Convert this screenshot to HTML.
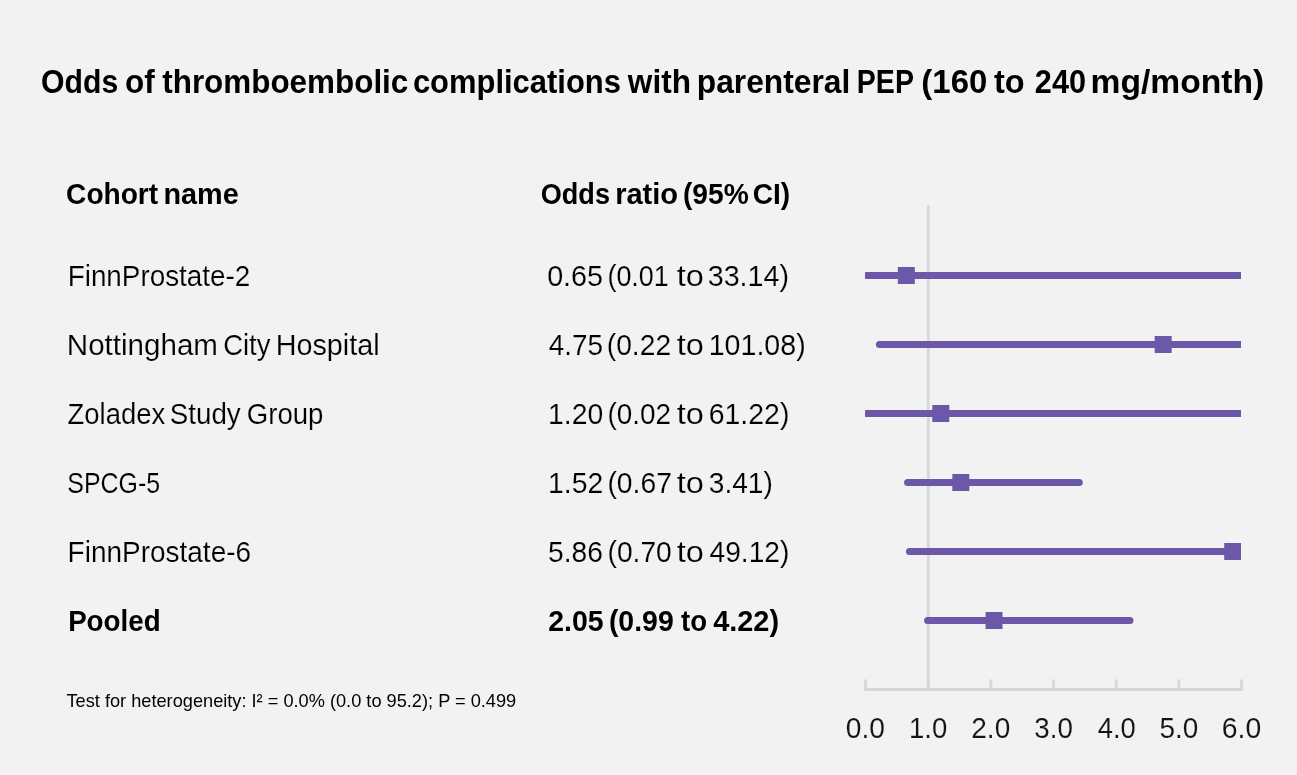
<!DOCTYPE html>
<html><head><meta charset="utf-8"><title>Forest plot</title>
<style>
html,body{margin:0;padding:0;background:#f2f2f2;}
body{width:1297px;height:775px;overflow:hidden;}
svg{display:block;font-family:"Liberation Sans",sans-serif;will-change:transform;}
</style></head>
<body>
<svg width="1297" height="775" viewBox="0 0 1297 775">
<rect width="1297" height="775" fill="#f2f2f2"/>
<line x1="928.25" y1="205" x2="928.25" y2="689.5" stroke="#d3d7de" stroke-width="2.8"/>
<line x1="865.6" y1="679.5" x2="865.6" y2="689.5" stroke="#d3d7de" stroke-width="2.8"/><line x1="928.25" y1="679.5" x2="928.25" y2="689.5" stroke="#d3d7de" stroke-width="2.8"/><line x1="990.9" y1="679.5" x2="990.9" y2="689.5" stroke="#d3d7de" stroke-width="2.8"/><line x1="1053.55" y1="679.5" x2="1053.55" y2="689.5" stroke="#d3d7de" stroke-width="2.8"/><line x1="1116.2" y1="679.5" x2="1116.2" y2="689.5" stroke="#d3d7de" stroke-width="2.8"/><line x1="1178.85" y1="679.5" x2="1178.85" y2="689.5" stroke="#d3d7de" stroke-width="2.8"/><line x1="1241.5" y1="679.5" x2="1241.5" y2="689.5" stroke="#d3d7de" stroke-width="2.8"/>
<line x1="864.2" y1="689.5" x2="1242.9" y2="689.5" stroke="#d3d7de" stroke-width="2.8"/>
<clipPath id="pc"><rect x="865.0" y="0" width="376.0999999999999" height="775"/></clipPath>
<g clip-path="url(#pc)">
<line x1="866.23" y1="275.5" x2="1304.15" y2="275.5" stroke="#6b58a8" stroke-width="7" stroke-linecap="round"/>
<rect x="897.82" y="267.0" width="17" height="17" fill="#6b58a8"/>
<line x1="879.38" y1="344.5" x2="1304.15" y2="344.5" stroke="#6b58a8" stroke-width="7" stroke-linecap="round"/>
<rect x="1154.69" y="336.0" width="17" height="17" fill="#6b58a8"/>
<line x1="866.85" y1="413.5" x2="1304.15" y2="413.5" stroke="#6b58a8" stroke-width="7" stroke-linecap="round"/>
<rect x="932.28" y="405.0" width="17" height="17" fill="#6b58a8"/>
<line x1="907.58" y1="482.5" x2="1079.24" y2="482.5" stroke="#6b58a8" stroke-width="7" stroke-linecap="round"/>
<rect x="952.33" y="474.0" width="17" height="17" fill="#6b58a8"/>
<line x1="909.46" y1="551.5" x2="1304.15" y2="551.5" stroke="#6b58a8" stroke-width="7" stroke-linecap="round"/>
<rect x="1224.23" y="543.0" width="17" height="17" fill="#6b58a8"/>
<line x1="927.62" y1="620.5" x2="1129.98" y2="620.5" stroke="#6b58a8" stroke-width="7" stroke-linecap="round"/>
<rect x="985.53" y="612.0" width="17" height="17" fill="#6b58a8"/>
</g>
<text x="41.1" y="93" font-size="32.5" font-weight="700" fill="#000" textLength="77.13" lengthAdjust="spacingAndGlyphs">Odds</text>
<text x="125.0" y="93" font-size="32.5" font-weight="700" fill="#000" textLength="29.72" lengthAdjust="spacingAndGlyphs">of</text>
<text x="162.26" y="93" font-size="32.5" font-weight="700" fill="#000" textLength="246.07" lengthAdjust="spacingAndGlyphs">thromboembolic</text>
<text x="412.89" y="93" font-size="32.5" font-weight="700" fill="#000" textLength="208.02" lengthAdjust="spacingAndGlyphs">complications</text>
<text x="627.85" y="93" font-size="32.5" font-weight="700" fill="#000" textLength="63.07" lengthAdjust="spacingAndGlyphs">with</text>
<text x="696.8" y="93" font-size="32.5" font-weight="700" fill="#000" textLength="153.53" lengthAdjust="spacingAndGlyphs">parenteral</text>
<text x="856.82" y="93" font-size="32.5" font-weight="700" fill="#000" textLength="57.13" lengthAdjust="spacingAndGlyphs">PEP</text>
<text x="921.36" y="93" font-size="32.5" font-weight="700" fill="#000" textLength="65.93" lengthAdjust="spacingAndGlyphs">(160</text>
<text x="994.04" y="93" font-size="32.5" font-weight="700" fill="#000" textLength="30.68" lengthAdjust="spacingAndGlyphs">to</text>
<text x="1034.86" y="93" font-size="32.5" font-weight="700" fill="#000" textLength="51.17" lengthAdjust="spacingAndGlyphs">240</text>
<text x="1090.49" y="93" font-size="32.5" font-weight="700" fill="#000" textLength="173.75" lengthAdjust="spacingAndGlyphs">mg/month)</text>
<text x="66.1" y="204" font-size="29" font-weight="700" fill="#000" textLength="92.07" lengthAdjust="spacingAndGlyphs">Cohort</text>
<text x="163.42" y="204" font-size="29" font-weight="700" fill="#000" textLength="75.32" lengthAdjust="spacingAndGlyphs">name</text>
<text x="540.72" y="204" font-size="29" font-weight="700" fill="#000" textLength="69.23" lengthAdjust="spacingAndGlyphs">Odds</text>
<text x="615.16" y="204" font-size="29" font-weight="700" fill="#000" textLength="62.96" lengthAdjust="spacingAndGlyphs">ratio</text>
<text x="682.97" y="204" font-size="29" font-weight="700" fill="#000" textLength="65.76" lengthAdjust="spacingAndGlyphs">(95%</text>
<text x="752.76" y="204" font-size="29" font-weight="700" fill="#000" textLength="37.45" lengthAdjust="spacingAndGlyphs">CI)</text>
<text x="67.69" y="286" font-size="29.5" font-weight="400" fill="#000" textLength="182.62" lengthAdjust="spacingAndGlyphs" stroke="#f2f2f2" stroke-width="0.15">FinnProstate-2</text>
<text x="66.79" y="355" font-size="29.5" font-weight="400" fill="#000" textLength="151.17" lengthAdjust="spacingAndGlyphs" stroke="#f2f2f2" stroke-width="0.15">Nottingham</text>
<text x="223.13" y="355" font-size="29.5" font-weight="400" fill="#000" textLength="47.29" lengthAdjust="spacingAndGlyphs" stroke="#f2f2f2" stroke-width="0.15">City</text>
<text x="275.7" y="355" font-size="29.5" font-weight="400" fill="#000" textLength="103.9" lengthAdjust="spacingAndGlyphs" stroke="#f2f2f2" stroke-width="0.15">Hospital</text>
<text x="67.5" y="424" font-size="29.5" font-weight="400" fill="#000" textLength="97.67" lengthAdjust="spacingAndGlyphs" stroke="#f2f2f2" stroke-width="0.15">Zoladex</text>
<text x="169.82" y="424" font-size="29.5" font-weight="400" fill="#000" textLength="70.85" lengthAdjust="spacingAndGlyphs" stroke="#f2f2f2" stroke-width="0.15">Study</text>
<text x="246.79" y="424" font-size="29.5" font-weight="400" fill="#000" textLength="76.62" lengthAdjust="spacingAndGlyphs" stroke="#f2f2f2" stroke-width="0.15">Group</text>
<text x="67.37" y="493" font-size="29.5" font-weight="400" fill="#000" textLength="92.73" lengthAdjust="spacingAndGlyphs" stroke="#f2f2f2" stroke-width="0.15">SPCG-5</text>
<text x="67.62" y="562" font-size="29.5" font-weight="400" fill="#000" textLength="183.45" lengthAdjust="spacingAndGlyphs" stroke="#f2f2f2" stroke-width="0.15">FinnProstate-6</text>
<text x="68.14" y="631" font-size="29.5" font-weight="700" fill="#000" textLength="92.46" lengthAdjust="spacingAndGlyphs">Pooled</text>
<text x="547.14" y="286" font-size="29.5" font-weight="400" fill="#000" textLength="55.93" lengthAdjust="spacingAndGlyphs" stroke="#f2f2f2" stroke-width="0.15">0.65</text>
<text x="607.44" y="286" font-size="29.5" font-weight="400" fill="#000" textLength="61.33" lengthAdjust="spacingAndGlyphs" stroke="#f2f2f2" stroke-width="0.15">(0.01</text>
<text x="676.65" y="286" font-size="29.5" font-weight="400" fill="#000" textLength="27.08" lengthAdjust="spacingAndGlyphs" stroke="#f2f2f2" stroke-width="0.15">to</text>
<text x="707.69" y="286" font-size="29.5" font-weight="400" fill="#000" textLength="81.36" lengthAdjust="spacingAndGlyphs" stroke="#f2f2f2" stroke-width="0.15">33.14)</text>
<text x="548.69" y="355" font-size="29.5" font-weight="400" fill="#000" textLength="54.21" lengthAdjust="spacingAndGlyphs" stroke="#f2f2f2" stroke-width="0.15">4.75</text>
<text x="606.82" y="355" font-size="29.5" font-weight="400" fill="#000" textLength="64.25" lengthAdjust="spacingAndGlyphs" stroke="#f2f2f2" stroke-width="0.15">(0.22</text>
<text x="676.65" y="355" font-size="29.5" font-weight="400" fill="#000" textLength="27.08" lengthAdjust="spacingAndGlyphs" stroke="#f2f2f2" stroke-width="0.15">to</text>
<text x="708.73" y="355" font-size="29.5" font-weight="400" fill="#000" textLength="96.95" lengthAdjust="spacingAndGlyphs" stroke="#f2f2f2" stroke-width="0.15">101.08)</text>
<text x="548.0" y="424" font-size="29.5" font-weight="400" fill="#000" textLength="55.18" lengthAdjust="spacingAndGlyphs" stroke="#f2f2f2" stroke-width="0.15">1.20</text>
<text x="607.52" y="424" font-size="29.5" font-weight="400" fill="#000" textLength="63.6" lengthAdjust="spacingAndGlyphs" stroke="#f2f2f2" stroke-width="0.15">(0.02</text>
<text x="676.65" y="424" font-size="29.5" font-weight="400" fill="#000" textLength="27.08" lengthAdjust="spacingAndGlyphs" stroke="#f2f2f2" stroke-width="0.15">to</text>
<text x="708.69" y="424" font-size="29.5" font-weight="400" fill="#000" textLength="80.75" lengthAdjust="spacingAndGlyphs" stroke="#f2f2f2" stroke-width="0.15">61.22)</text>
<text x="548.0" y="493" font-size="29.5" font-weight="400" fill="#000" textLength="55.26" lengthAdjust="spacingAndGlyphs" stroke="#f2f2f2" stroke-width="0.15">1.52</text>
<text x="607.44" y="493" font-size="29.5" font-weight="400" fill="#000" textLength="64.48" lengthAdjust="spacingAndGlyphs" stroke="#f2f2f2" stroke-width="0.15">(0.67</text>
<text x="676.65" y="493" font-size="29.5" font-weight="400" fill="#000" textLength="27.08" lengthAdjust="spacingAndGlyphs" stroke="#f2f2f2" stroke-width="0.15">to</text>
<text x="708.8" y="493" font-size="29.5" font-weight="400" fill="#000" textLength="64.0" lengthAdjust="spacingAndGlyphs" stroke="#f2f2f2" stroke-width="0.15">3.41)</text>
<text x="548.0" y="562" font-size="29.5" font-weight="400" fill="#000" textLength="54.85" lengthAdjust="spacingAndGlyphs" stroke="#f2f2f2" stroke-width="0.15">5.86</text>
<text x="607.49" y="562" font-size="29.5" font-weight="400" fill="#000" textLength="64.31" lengthAdjust="spacingAndGlyphs" stroke="#f2f2f2" stroke-width="0.15">(0.70</text>
<text x="676.65" y="562" font-size="29.5" font-weight="400" fill="#000" textLength="27.08" lengthAdjust="spacingAndGlyphs" stroke="#f2f2f2" stroke-width="0.15">to</text>
<text x="709.53" y="562" font-size="29.5" font-weight="400" fill="#000" textLength="79.91" lengthAdjust="spacingAndGlyphs" stroke="#f2f2f2" stroke-width="0.15">49.12)</text>
<text x="548.21" y="631" font-size="29.5" font-weight="700" fill="#000" textLength="55.37" lengthAdjust="spacingAndGlyphs">2.05</text>
<text x="608.89" y="631" font-size="29.5" font-weight="700" fill="#000" textLength="64.83" lengthAdjust="spacingAndGlyphs">(0.99</text>
<text x="681.01" y="631" font-size="29.5" font-weight="700" fill="#000" textLength="25.99" lengthAdjust="spacingAndGlyphs">to</text>
<text x="713.15" y="631" font-size="29.5" font-weight="700" fill="#000" textLength="65.95" lengthAdjust="spacingAndGlyphs">4.22)</text>
<text x="66.48" y="707" font-size="19" font-weight="400" fill="#000" textLength="449.75" lengthAdjust="spacingAndGlyphs">Test for heterogeneity: I² = 0.0% (0.0 to 95.2); P = 0.499</text>
<text x="865.35" y="738" font-size="29.5" font-weight="400" fill="#141414" text-anchor="middle" textLength="39.14" lengthAdjust="spacingAndGlyphs" stroke="#f2f2f2" stroke-width="0.1">0.0</text>
<text x="928.18" y="738" font-size="29.5" font-weight="400" fill="#141414" text-anchor="middle" textLength="38.28" lengthAdjust="spacingAndGlyphs" stroke="#f2f2f2" stroke-width="0.1">1.0</text>
<text x="990.76" y="738" font-size="29.5" font-weight="400" fill="#141414" text-anchor="middle" textLength="38.96" lengthAdjust="spacingAndGlyphs" stroke="#f2f2f2" stroke-width="0.1">2.0</text>
<text x="1053.57" y="738" font-size="29.5" font-weight="400" fill="#141414" text-anchor="middle" textLength="38.54" lengthAdjust="spacingAndGlyphs" stroke="#f2f2f2" stroke-width="0.1">3.0</text>
<text x="1116.83" y="738" font-size="29.5" font-weight="400" fill="#141414" text-anchor="middle" textLength="38.04" lengthAdjust="spacingAndGlyphs" stroke="#f2f2f2" stroke-width="0.1">4.0</text>
<text x="1178.87" y="738" font-size="29.5" font-weight="400" fill="#141414" text-anchor="middle" textLength="38.8" lengthAdjust="spacingAndGlyphs" stroke="#f2f2f2" stroke-width="0.1">5.0</text>
<text x="1241.5" y="738" font-size="29.5" font-weight="400" fill="#141414" text-anchor="middle" textLength="39.45" lengthAdjust="spacingAndGlyphs" stroke="#f2f2f2" stroke-width="0.1">6.0</text>
</svg>
</body></html>
